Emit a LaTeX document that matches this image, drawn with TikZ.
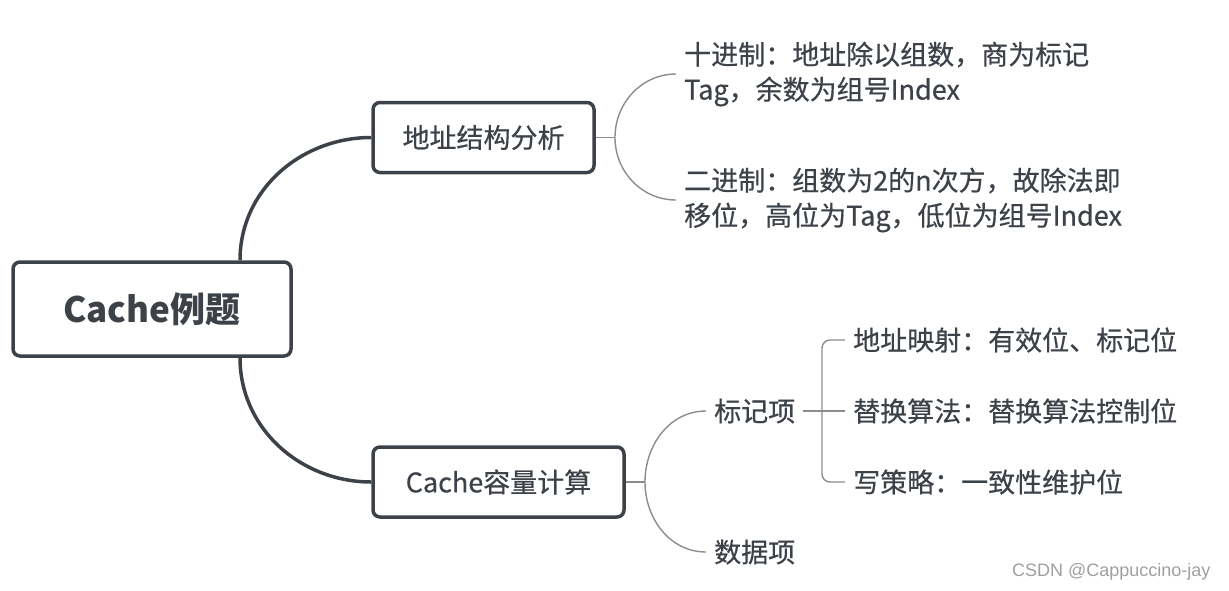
\documentclass[tikz,border=0pt]{standalone}
\usepackage{fontspec}
\setmainfont{Noto Sans CJK SC}
\newfontfamily\medfont[FakeBold=0.5]{Noto Sans CJK SC}
\newfontfamily\wmfont{Liberation Sans}
\definecolor{ink}{HTML}{3D4249}
\definecolor{twigc}{HTML}{8C8C8C}
\tikzset{
  topic/.style={draw=ink, line width=3.5pt, rounded corners=7pt, fill=white, text=ink,
    font=\medfont\fontsize{27}{32}\selectfont, minimum height=70pt, inner sep=0pt},
  leaf/.style={text=ink, font=\medfont\fontsize{27}{35}\selectfont, align=left, anchor=west,
    inner xsep=8pt, inner ysep=0pt},
  trunk/.style={draw=ink, line width=3.5pt},
  twig/.style={draw=twigc, line width=1.4pt},
}

\begin{document}
\begin{tikzpicture}[x=1pt,y=-1pt]
    \useasboundingbox (0,0) rectangle (1229,590);

    % main topics
    \node[topic, minimum width=278pt, minimum height=94pt,
      font=\fontsize{35}{40}\selectfont\bfseries] (C) at (152,309) {Cache例题};
    \node[topic, minimum width=221pt] (A) at (483.5,137.5) {地址结构分析};
    \node[topic, minimum width=251pt] (B) at (498.5,482) {Cache容量计算};

    \draw[trunk] ([xshift=88]C.north) to[out=90,in=180] (A.west);
    \draw[trunk] ([xshift=88]C.south) to[out=-90,in=180] (B.west);

    % address structure
    \coordinate (A0) at (615,137.5);
    \node[leaf] (A1) at (676,74) {十进制：地址除以组数，商为标记\\Tag，余数为组号Index};
    \node[leaf] (A2) at (676,200) {二进制：组数为2的n次方，故除法即\\移位，高位为Tag，低位为组号Index};

    \draw[twig] (A.east) -- (A0);
    \draw[twig] (A0) to[out=90,in=180] (A1.west);
    \draw[twig] (A0) to[out=-90,in=180] (A2.west);

    % capacity
    \coordinate (B0) at (645,482);
    \node[leaf] (B1) at (706,411) {标记项};
    \node[leaf] (B2) at (706,552) {数据项};

    \draw[twig] (B.east) -- (B0);
    \draw[twig] (B0) to[out=90,in=180] (B1.west);
    \draw[twig] (B0) to[out=-90,in=180] (B2.west);

    \node[leaf] (S1) at (845,340) {地址映射：有效位、标记位};
    \node[leaf] (S2) at (845,411) {替换算法：替换算法控制位};
    \node[leaf] (S3) at (845,482) {写策略：一致性维护位};

    \draw[twig] (B1.east) -- (S2.west);
    \draw[twig, rounded corners=8pt] (S1.west) -| (822,411) |- (S3.west);

    \node[font=\wmfont\fontsize{18}{20}\selectfont, text=gray!75, anchor=east] (W) at (1214,572) {CSDN @Cappuccino-jay};
\end{tikzpicture}
\end{document}
